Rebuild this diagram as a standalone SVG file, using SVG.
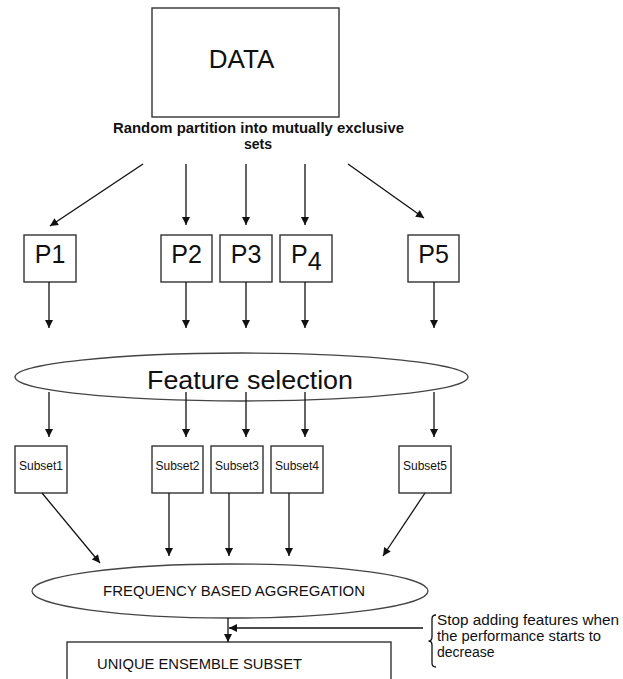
<svg xmlns="http://www.w3.org/2000/svg" width="623" height="679" viewBox="0 0 623 679">
<style>
text{font-family:"Liberation Sans",Arial,sans-serif;fill:#111}
.box{fill:#fff;stroke:#333;stroke-width:1.4}
.ell{fill:#fff;stroke:#444;stroke-width:1.3}
.ln{stroke:#111;stroke-width:1.3;fill:none}
.big{font-size:25px}
.sub{font-size:12px}
</style>
<defs>
<marker id="ah" viewBox="0 0 10 10" refX="10" refY="5" markerWidth="9" markerHeight="8" markerUnits="userSpaceOnUse" orient="auto">
<path d="M0,0 L10,5 L0,10 Z" fill="#111"/>
</marker>
</defs>
<rect width="623" height="679" fill="#fff"/>

<g id="data">
<rect class="box" x="152" y="8" width="187" height="109"/>
<text x="241.5" y="68" font-size="26" text-anchor="middle">DATA</text>
</g>
<g id="partition-label">
<text x="113" y="133" font-size="14" font-weight="bold" textLength="291" lengthAdjust="spacingAndGlyphs">Random partition into mutually exclusive</text>
<text x="258" y="149" font-size="14" font-weight="bold" text-anchor="middle">sets</text>
</g>

<g id="p1"><rect class="box" x="24" y="235" width="52" height="47"/><text class="big" x="50" y="263" text-anchor="middle">P1</text></g>
<g id="p2"><rect class="box" x="161" y="235" width="51" height="47"/><text class="big" x="186.5" y="263" text-anchor="middle">P2</text></g>
<g id="p3"><rect class="box" x="220" y="235" width="52" height="47"/><text class="big" x="246" y="263" text-anchor="middle">P3</text></g>
<g id="p4"><rect class="box" x="280" y="235" width="52" height="47"/><text class="big" x="291" y="263">P<tspan dy="7">4</tspan></text></g>
<g id="p5"><rect class="box" x="408" y="235" width="51" height="47"/><text class="big" x="433.5" y="263" text-anchor="middle">P5</text></g>

<g id="feature-selection">
<ellipse class="ell" cx="241.5" cy="377" rx="226.5" ry="24"/>
<text x="147" y="389" font-size="26" textLength="206" lengthAdjust="spacingAndGlyphs">Feature selection</text>
</g>

<g id="subset1"><rect class="box" x="15" y="446" width="52" height="47"/><text class="sub" x="41" y="470" text-anchor="middle">Subset1</text></g>
<g id="subset2"><rect class="box" x="152" y="446" width="51" height="47"/><text class="sub" x="177.5" y="470" text-anchor="middle">Subset2</text></g>
<g id="subset3"><rect class="box" x="211" y="446" width="52" height="47"/><text class="sub" x="237" y="470" text-anchor="middle">Subset3</text></g>
<g id="subset4"><rect class="box" x="271" y="446" width="52" height="47"/><text class="sub" x="297" y="470" text-anchor="middle">Subset4</text></g>
<g id="subset5"><rect class="box" x="399" y="446" width="52" height="47"/><text class="sub" x="425" y="470" text-anchor="middle">Subset5</text></g>

<g id="aggregation">
<ellipse class="ell" cx="230" cy="591" rx="198" ry="27"/>
<text x="103" y="596" font-size="14" textLength="262" lengthAdjust="spacingAndGlyphs">FREQUENCY BASED AGGREGATION</text>
</g>

<g id="unique">
<rect class="box" x="67" y="642" width="324" height="60"/>
<text x="97" y="669" font-size="15" textLength="205" lengthAdjust="spacingAndGlyphs">UNIQUE ENSEMBLE SUBSET</text>
</g>

<g id="stop-note">
<path class="ln" d="M436,615 Q432,615 432,619 L432,637 Q432,641 428.5,641 Q432,641 432,645 L432,663 Q432,667 436,667" stroke-width="1"/>
<text x="437" y="625" font-size="14" textLength="182" lengthAdjust="spacingAndGlyphs">Stop adding features when</text>
<text x="437" y="641" font-size="14" textLength="164" lengthAdjust="spacingAndGlyphs">the performance starts to</text>
<text x="437" y="657" font-size="14">decrease</text>
</g>

<g id="connectors" marker-end="url(#ah)">
<line class="ln" x1="143" y1="164" x2="50" y2="226" marker-end="url(#ah)"/>
<line class="ln" x1="186" y1="164" x2="186" y2="225" marker-end="url(#ah)"/>
<line class="ln" x1="246" y1="164" x2="246" y2="225" marker-end="url(#ah)"/>
<line class="ln" x1="305" y1="164" x2="305" y2="225" marker-end="url(#ah)"/>
<line class="ln" x1="348" y1="164" x2="424" y2="218" marker-end="url(#ah)"/>

<line class="ln" x1="49" y1="282" x2="49" y2="328" marker-end="url(#ah)"/>
<line class="ln" x1="186" y1="282" x2="186" y2="328" marker-end="url(#ah)"/>
<line class="ln" x1="246" y1="282" x2="246" y2="328" marker-end="url(#ah)"/>
<line class="ln" x1="305" y1="282" x2="305" y2="328" marker-end="url(#ah)"/>
<line class="ln" x1="434" y1="282" x2="434" y2="328" marker-end="url(#ah)"/>

<line class="ln" x1="49" y1="392" x2="49" y2="437" marker-end="url(#ah)"/>
<line class="ln" x1="186" y1="392" x2="186" y2="437" marker-end="url(#ah)"/>
<line class="ln" x1="246" y1="392" x2="246" y2="437" marker-end="url(#ah)"/>
<line class="ln" x1="305" y1="392" x2="305" y2="437" marker-end="url(#ah)"/>
<line class="ln" x1="434" y1="392" x2="434" y2="437" marker-end="url(#ah)"/>

<line class="ln" x1="42" y1="493" x2="100" y2="563" marker-end="url(#ah)"/>
<line class="ln" x1="169" y1="493" x2="169" y2="556" marker-end="url(#ah)"/>
<line class="ln" x1="229" y1="493" x2="229" y2="556" marker-end="url(#ah)"/>
<line class="ln" x1="289" y1="493" x2="289" y2="556" marker-end="url(#ah)"/>
<line class="ln" x1="425" y1="493" x2="383" y2="556" marker-end="url(#ah)"/>

<line class="ln" x1="228" y1="618" x2="228" y2="642" marker-end="url(#ah)"/>
<line class="ln" x1="423" y1="628" x2="229" y2="628" marker-end="url(#ah)"/>
</g>
</svg>
